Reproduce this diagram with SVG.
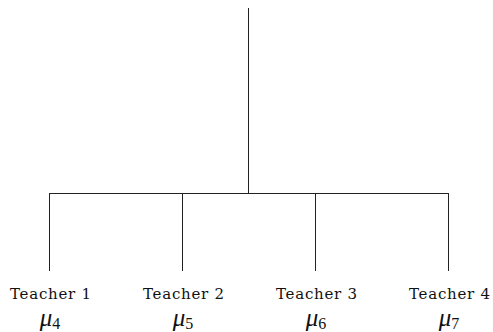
<svg xmlns="http://www.w3.org/2000/svg" width="493" height="332" viewBox="0 0 493 332">
<style>
.ln{stroke:#222;stroke-width:1;fill:none}
.lbl{font-family:"DejaVu Serif","Liberation Serif",serif;font-size:15px;fill:#111;text-anchor:middle}
.mu{font-family:"Liberation Serif","DejaVu Serif",serif;font-size:25px;font-style:italic;fill:#111;text-anchor:middle}
.sub{font-size:16px;font-style:normal}
</style>
<rect width="493" height="332" fill="#fff"/>
<g id="connectors">
<path class="ln" d="M248.5 8V193.5M49.5 193.5H448.5M49.5 193V271M182.5 193V271M315.5 193V271M448.5 193V271"/>
</g>
<g id="teacher1"><text class="lbl" x="50.5" y="299" textLength="81" lengthAdjust="spacing">Teacher 1</text><text class="mu" x="50" y="326">μ<tspan class="sub" dy="3">4</tspan></text></g>
<g id="teacher2"><text class="lbl" x="183.5" y="299" textLength="81" lengthAdjust="spacing">Teacher 2</text><text class="mu" x="183" y="326">μ<tspan class="sub" dy="3">5</tspan></text></g>
<g id="teacher3"><text class="lbl" x="316.5" y="299" textLength="81" lengthAdjust="spacing">Teacher 3</text><text class="mu" x="316" y="326">μ<tspan class="sub" dy="3">6</tspan></text></g>
<g id="teacher4"><text class="lbl" x="449.5" y="299" textLength="81" lengthAdjust="spacing">Teacher 4</text><text class="mu" x="449" y="326">μ<tspan class="sub" dy="3">7</tspan></text></g>
</svg>
